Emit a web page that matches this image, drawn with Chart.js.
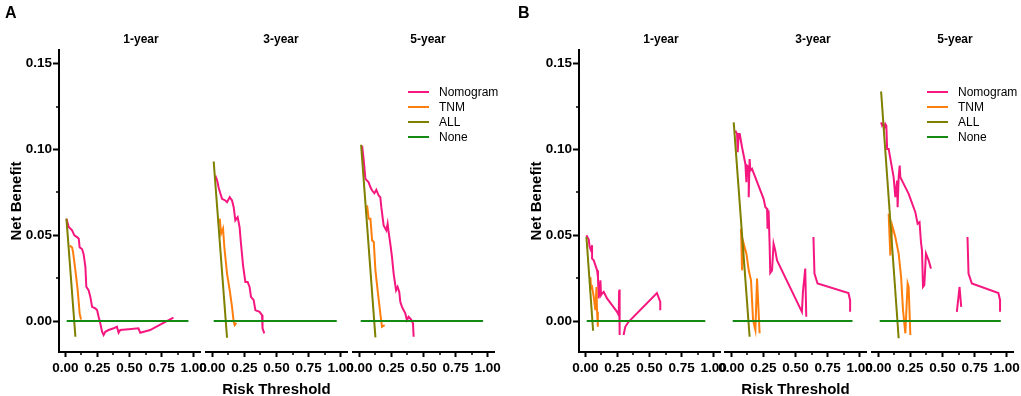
<!DOCTYPE html>
<html><head><meta charset="utf-8">
<script src="https://cdn.jsdelivr.net/npm/chart.js@4.4.1/dist/chart.umd.min.js"></script>
<style>
html,body{margin:0;padding:0;background:#fff;}
body{width:1021px;height:396px;overflow:hidden;position:relative;font-family:"Liberation Sans",Arial,Helvetica,sans-serif;}
canvas{position:absolute;top:0;}
.plabel{position:absolute;font-weight:bold;font-size:16px;line-height:16px;color:#000;}
.stitle{position:absolute;top:32.4px;width:80px;text-align:center;font-weight:bold;font-size:12px;line-height:14px;color:#000;white-space:nowrap;}
.lrow{position:absolute;height:14px;white-space:nowrap;}
.lrow .sw{position:absolute;left:0;top:6px;width:21px;height:2px;}
.lrow .tx{position:absolute;left:31px;top:0;font-size:12px;line-height:14px;color:#000;}
</style></head>
<body>
<script>
// ---------- data ----------
const seriesNames = ['Nomogram','TNM','ALL','None'];
const subTitles = ['1-year','3-year','5-year'];
const panelLetters = ['A','B'];
const xMajorTicks = [0, 0.25, 0.5, 0.75, 1];
const xMinorTicks = [0.125, 0.375, 0.625, 0.875];
const yMajorTicks = [0, 0.05, 0.10, 0.15];
const yMinorTicks = [0.025, 0.075, 0.125];
const xAxisTitle = 'Risk Threshold';
const yAxisTitle = 'Net Benefit';

// Panel A, 1-year
const A1_nomo_x = [0.008,0.026,0.052,0.070,0.091,0.104,0.111,0.130,0.142,0.156,0.163,0.181,0.195,0.208,0.233,0.247,0.259,0.272,0.286,0.298,0.311,0.337,0.376,0.402,0.415,0.428,0.493,0.570,0.584,0.661,0.765,0.843];
const A1_nomo_y = [0.0597,0.0548,0.0529,0.050,0.049,0.048,0.043,0.042,0.039,0.0316,0.020,0.018,0.014,0.0083,0.0074,0.0064,0.0025,-0.0013,-0.0062,-0.0081,-0.0062,-0.0052,-0.0042,-0.0033,-0.0068,-0.0052,-0.0048,-0.0042,-0.0068,-0.0052,-0.001,0.0021];
const A1_tnm_x = [0.033,0.052,0.060,0.078,0.096,0.111,0.122];
const A1_tnm_y = [0.044,0.043,0.040,0.0296,0.018,0.0045,0.001];
const A1_all_x = [0.008,0.078];
const A1_all_y = [0.0597,-0.0091];
const A1_none_x = [0.01,0.96];
const A1_none_y = [0,0];

// Panel A, 3-year
const A2_nomo_x = [0.023,0.037,0.049,0.062,0.075,0.101,0.114,0.135,0.153,0.166,0.179,0.197,0.212,0.223,0.239,0.257,0.275,0.290,0.301,0.322,0.335,0.348,0.368,0.387,0.391,0.405];
const A2_nomo_y = [0.0848,0.0819,0.0777,0.0744,0.0713,0.0703,0.0693,0.0722,0.0703,0.0664,0.0587,0.0606,0.0548,0.0451,0.0325,0.0228,0.0228,0.0199,0.0141,0.0122,0.0064,0.006,0.0054,0.0035,-0.0042,-0.0071];
const A2_tnm_x = [0.057,0.068,0.083,0.093,0.114,0.135,0.153,0.166,0.174,0.187];
const A2_tnm_y = [0.0597,0.051,0.0539,0.0432,0.0277,0.018,0.0083,-0.0004,-0.0023,-0.001];
const A2_all_x = [0.010,0.114];
const A2_all_y = [0.093,-0.0097];
const A2_none_x = [0.01,0.97];
const A2_none_y = [0,0];

// Panel A, 5-year
const A3_nomo_x = [0.021,0.034,0.047,0.072,0.086,0.099,0.117,0.132,0.150,0.163,0.171,0.189,0.210,0.220,0.228,0.241,0.254,0.267,0.286,0.298,0.311,0.319,0.332,0.358,0.371,0.384,0.402,0.418,0.423];
const A3_nomo_y = [0.1023,0.0935,0.0829,0.0809,0.078,0.0761,0.0745,0.0765,0.0732,0.0722,0.0664,0.0558,0.0529,0.0568,0.0519,0.0451,0.0374,0.0277,0.018,0.0199,0.017,0.0112,0.0083,0.0045,0.0006,0.0025,0.001,-0.0013,-0.0091];
const A3_tnm_x = [0.060,0.072,0.086,0.099,0.112,0.125,0.142,0.163,0.176,0.197];
const A3_tnm_y = [0.0674,0.0597,0.0597,0.0471,0.0461,0.0296,0.018,0.0045,-0.0033,-0.0023];
const A3_all_x = [0.013,0.125];
const A3_all_y = [0.1028,-0.0095];
const A3_none_x = [0.01,0.965];
const A3_none_y = [0,0];

// Panel B, 1-year
const B1_nomo_x = [0.008,0.018,0.026,0.033,0.044,0.052,0.052,0.065,0.078,0.091,0.098,0.103,0.111,0.117,0.122,0.130,0.143,0.169,0.208,0.247,0.260,0.263,0.267,0.267,0.28,0.298,0.311,0.337,0.558,0.584,0.584];
const B1_nomo_y = [0.050,0.0486,0.0475,0.0432,0.0412,0.0442,0.0364,0.0354,0.0325,0.0296,0.0257,0.0132,0.018,0.0238,0.0151,0.0161,0.017,0.0132,0.0093,0.0054,0.0035,0.018,0.0184,-0.0081,null,-0.0081,-0.0033,-0.0004,0.0164,0.0112,0.0064];
const B1_tnm_x = [0.039,0.044,0.052,0.065,0.078,0.086,0.091,0.096,0.098];
const B1_tnm_y = [0.0257,0.019,0.0199,0.0141,0.0064,0.0199,0.0054,-0.0013,-0.0033];
const B1_all_x = [0.008,0.060];
const B1_all_y = [0.049,-0.0056];
const B1_none_x = [0.01,0.935];
const B1_none_y = [0,0];

// Panel B, 3-year
const B2_nomo_x = [0.031,0.044,0.049,0.057,0.065,0.083,0.109,0.117,0.122,0.135,0.135,0.142,0.148,0.161,0.251,0.265,0.278,0.282,0.290,0.298,0.303,0.317,0.329,0.342,0.356,0.550,0.558,0.576,0.584,0.61,0.640,0.648,0.672,0.913,0.926,0.926];
const B2_nomo_y = [0.111,0.109,0.0984,0.109,0.109,0.1013,0.0916,0.0809,0.0906,0.0897,0.0722,0.0945,0.0877,0.0887,0.0713,0.0664,0.0655,0.0539,0.0645,0.0451,0.0281,0.0296,0.0451,0.0412,0.0354,0.0054,0.017,0.0306,0.0025,null,0.049,0.0277,0.0219,0.0164,0.0122,0.0054];
const B2_tnm_x = [0.075,0.083,0.096,0.117,0.135,0.153,0.169,0.187,0.200,0.220];
const B2_tnm_y = [0.0539,0.0296,0.0451,0.0393,0.0296,0.0238,0.0006,-0.0052,0.0248,-0.0071];
const B2_all_x = [0.018,0.142];
const B2_all_y = [0.1158,-0.0091];
const B2_none_x = [0.01,0.945];
const B2_none_y = [0,0];

// Panel B, 5-year
const B3_nomo_x = [0.021,0.029,0.037,0.047,0.054,0.062,0.068,0.080,0.119,0.132,0.146,0.150,0.158,0.166,0.171,0.197,0.236,0.288,0.306,0.321,0.332,0.340,0.348,0.358,0.371,0.392,0.410,0.5,0.612,0.633,0.646,0.67,0.695,0.703,0.729,0.936,0.949,0.949];
const B3_nomo_y = [0.1158,0.1139,0.1149,0.1129,0.1149,0.1139,0.1003,0.1003,0.0838,0.0722,0.0819,0.0664,0.0838,0.0906,0.0838,0.08,0.0742,0.0635,0.0568,0.0577,0.0461,0.0412,0.0199,0.0209,0.0393,0.0354,0.0306,null,0.0054,0.0199,0.0083,null,0.049,0.0277,0.0219,0.0164,0.0122,0.0054];
const B3_tnm_x = [0.080,0.093,0.107,0.132,0.158,0.177,0.192,0.210,0.228,0.236,0.249];
const B3_tnm_y = [0.0626,0.0383,0.0558,0.049,0.0393,0.0257,0.0064,-0.0071,0.0219,0.0199,-0.0081];
const B3_all_x = [0.021,0.158];
const B3_all_y = [0.1338,-0.010];
const B3_none_x = [0.01,0.955];
const B3_none_y = [0,0];

// ---------- styling / layout ----------
const COLORS = ['#F5177F','#FF7F0E','#7F7F00','#148A14'];
const ORDERS = [3,2,1,0];
const FONT = '"Liberation Sans", Arial, Helvetica, sans-serif';
const X_MIN = -0.05, X_MAX = 1.05, Y_MIN = -0.018, Y_MAX = 0.158;
const SEG_W = 141, M = 20, H = 400, TOP = 50;
const PANELS = [
  {left:0, segs:[59,206,353], titleX:[141,281,428], legendLeft:408, letterLeft:5,
   data:[[A1_nomo_x,A1_nomo_y,A1_tnm_x,A1_tnm_y,A1_all_x,A1_all_y,A1_none_x,A1_none_y],
         [A2_nomo_x,A2_nomo_y,A2_tnm_x,A2_tnm_y,A2_all_x,A2_all_y,A2_none_x,A2_none_y],
         [A3_nomo_x,A3_nomo_y,A3_tnm_x,A3_tnm_y,A3_all_x,A3_all_y,A3_none_x,A3_none_y]]},
  {left:520, segs:[579,725,872], titleX:[661,813,955], legendLeft:927, letterLeft:518,
   data:[[B1_nomo_x,B1_nomo_y,B1_tnm_x,B1_tnm_y,B1_all_x,B1_all_y,B1_none_x,B1_none_y],
         [B2_nomo_x,B2_nomo_y,B2_tnm_x,B2_tnm_y,B2_all_x,B2_all_y,B2_none_x,B2_none_y],
         [B3_nomo_x,B3_nomo_y,B3_tnm_x,B3_tnm_y,B3_all_x,B3_all_y,B3_none_x,B3_none_y]]}
];

function pts(xs, ys){ return xs.map((x,i)=>({x:x, y: ys[i]})); }

const minorTicksPlugin = {
  id:'minorTicks',
  afterDraw(chart){
    const ctx = chart.ctx, a = chart.chartArea, xs = chart.scales.x, ys = chart.scales.y;
    ctx.save();
    ctx.strokeStyle = '#000'; ctx.lineWidth = 1.5;
    xMinorTicks.forEach(v=>{
      const px = Math.round(xs.getPixelForValue(v));
      ctx.beginPath(); ctx.moveTo(px, a.bottom); ctx.lineTo(px, a.bottom + 3); ctx.stroke();
    });
    if (ys.options.display) {
      yMinorTicks.forEach(v=>{
        const py = Math.round(ys.getPixelForValue(v));
        ctx.beginPath(); ctx.moveTo(a.left - 3, py); ctx.lineTo(a.left, py); ctx.stroke();
      });
    }
    ctx.restore();
  }
};

const tickFont = {family:FONT, size:13.5, weight:'bold'};

function makeChart(panel, k){
  const isFirst = k === 0, isMiddle = k === 1;
  const seg = panel.segs[k];
  const cv = document.createElement('canvas');
  const left = isFirst ? panel.left : seg - M;
  const width = isFirst ? (seg - panel.left + SEG_W + M) : (SEG_W + 2*M);
  cv.width = width; cv.height = H;
  cv.style.left = left + 'px'; cv.style.width = width + 'px'; cv.style.height = H + 'px';
  document.body.appendChild(cv);
  const d = panel.data[k];
  const datasets = seriesNames.map((name,i)=>({
    label:name, data: pts(d[2*i], d[2*i+1]), borderColor: COLORS[i], backgroundColor: COLORS[i],
    borderWidth: 2, pointRadius: 0, tension: 0, fill:false, order: ORDERS[i], spanGaps:false
  }));
  const yW = seg - panel.left;
  new Chart(cv, {
    type:'line',
    data:{datasets},
    options:{
      responsive:false, animation:false, devicePixelRatio:1,
      layout:{padding:{left: isFirst ? 0 : M, right: M, top: TOP, bottom: 1}},
      plugins:{ legend:{display:false}, tooltip:{enabled:false}, title:{display:false} },
      scales:{
        x:{
          type:'linear', min:X_MIN, max:X_MAX,
          afterBuildTicks: s => { s.ticks = xMajorTicks.map(v=>({value:v})); },
          afterFit: s => { s.height = 47; s.paddingLeft = 0; s.paddingRight = 0; },
          ticks:{autoSkip:false, maxRotation:0, minRotation:0, padding:3, color:'#000', font:tickFont,
                 callback: v => Number(v).toFixed(2)},
          grid:{display:true, drawOnChartArea:false, drawTicks:true, tickLength:5, tickColor:'#000', tickWidth:2},
          border:{display:true, color:'#000', width:2},
          title:{display:isMiddle, text:xAxisTitle, color:'#000', font:{family:FONT, size:15, weight:'bold'}, padding:{top:0, bottom:0}}
        },
        y:{
          type:'linear', display:isFirst, min:Y_MIN, max:Y_MAX,
          afterBuildTicks: s => { s.ticks = yMajorTicks.map(v=>({value:v})); },
          afterFit: s => { if (isFirst) { s.width = yW; s.paddingTop = 0; s.paddingBottom = 0; } else { s.width = 0; } },
          ticks:{padding:1, color:'#000', font:tickFont, callback: v => Number(v).toFixed(2)},
          grid:{display:true, drawOnChartArea:false, drawTicks:true, tickLength:6, tickColor:'#000', tickWidth:2},
          border:{display:true, color:'#000', width:2},
          title:{display:true, text:yAxisTitle, color:'#000', font:{family:FONT, size:15, weight:'bold'}, padding:{top:8, bottom:0}}
        }
      }
    },
    plugins:[minorTicksPlugin]
  });
  const t = document.createElement('div');
  t.className = 'stitle'; t.textContent = subTitles[k];
  t.style.left = (panel.titleX[k] - 40) + 'px';
  document.body.appendChild(t);
}

PANELS.forEach((p, pi)=>{
  [0,1,2].forEach(k=>makeChart(p,k));
  const lt = document.createElement('div');
  lt.className='plabel'; lt.textContent = panelLetters[pi];
  lt.style.left = p.letterLeft + 'px'; lt.style.top = '5px';
  document.body.appendChild(lt);
  seriesNames.forEach((name,i)=>{
    const row = document.createElement('div');
    row.className = 'lrow';
    row.style.left = p.legendLeft + 'px';
    row.style.top = (84.7 + i*15.2) + 'px';
    const sw = document.createElement('div'); sw.className='sw'; sw.style.background = COLORS[i];
    const tx = document.createElement('div'); tx.className='tx'; tx.textContent = name;
    row.appendChild(sw); row.appendChild(tx);
    document.body.appendChild(row);
  });
});
</script>
</body></html>
